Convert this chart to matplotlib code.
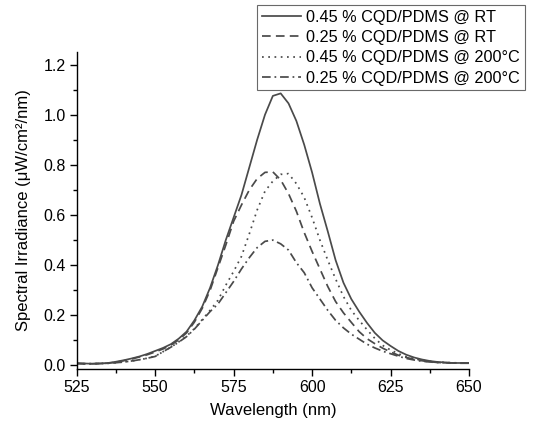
import matplotlib
matplotlib.use("Agg")
import matplotlib.pyplot as plt
from matplotlib.ticker import MultipleLocator

plt.rcParams['font.family'] = ['Liberation Sans', 'DejaVu Sans']

wavelength = [525, 527.5, 530, 532.5, 535, 537.5, 540, 542.5, 545, 547.5,
              550, 552.5, 555, 557.5, 560, 562.5, 565, 567.5, 570, 572.5,
              575, 577.5, 580, 582.5, 585, 587.5, 590, 592.5, 595, 597.5,
              600, 602.5, 605, 607.5, 610, 612.5, 615, 617.5, 620, 622.5,
              625, 627.5, 630, 632.5, 635, 637.5, 640, 642.5, 645, 647.5, 650]

rt_045 = [0.009, 0.008, 0.007, 0.008, 0.010, 0.015, 0.021, 0.028, 0.036, 0.046,
          0.058, 0.070, 0.085, 0.107, 0.135, 0.180, 0.235, 0.310, 0.400, 0.500,
          0.590, 0.680, 0.790, 0.900, 1.000, 1.075, 1.085, 1.045, 0.975, 0.880,
          0.770, 0.645, 0.535, 0.420, 0.330, 0.265, 0.215, 0.170, 0.130, 0.100,
          0.078, 0.058, 0.043, 0.032, 0.024, 0.018, 0.014, 0.012, 0.010, 0.010, 0.010]

rt_025 = [0.008, 0.007, 0.007, 0.008, 0.009, 0.013, 0.019, 0.026, 0.034, 0.043,
          0.054, 0.066, 0.081, 0.102, 0.130, 0.173, 0.228, 0.300, 0.390, 0.480,
          0.575, 0.640, 0.700, 0.745, 0.770, 0.772, 0.740, 0.685, 0.615, 0.530,
          0.455, 0.385, 0.315, 0.255, 0.210, 0.172, 0.135, 0.107, 0.087, 0.069,
          0.054, 0.041, 0.032, 0.025, 0.019, 0.015, 0.012, 0.011, 0.010, 0.009, 0.009]

t200_045 = [0.008, 0.007, 0.007, 0.008, 0.009, 0.011, 0.014, 0.018, 0.023, 0.029,
            0.037, 0.055, 0.073, 0.094, 0.117, 0.147, 0.183, 0.220, 0.260, 0.320,
            0.375, 0.435, 0.525, 0.620, 0.695, 0.735, 0.762, 0.765, 0.725, 0.670,
            0.590, 0.500, 0.420, 0.345, 0.275, 0.220, 0.180, 0.143, 0.108, 0.080,
            0.062, 0.047, 0.035, 0.027, 0.021, 0.017, 0.014, 0.012, 0.011, 0.010, 0.010]

t200_025 = [0.008, 0.007, 0.007, 0.008, 0.009, 0.011, 0.014, 0.018, 0.023, 0.029,
            0.036, 0.055, 0.073, 0.093, 0.115, 0.145, 0.180, 0.215, 0.245, 0.290,
            0.335, 0.385, 0.430, 0.470, 0.495, 0.500, 0.485, 0.460, 0.410, 0.370,
            0.310, 0.265, 0.220, 0.180, 0.150, 0.125, 0.105, 0.085, 0.070, 0.057,
            0.047, 0.037, 0.028, 0.022, 0.017, 0.014, 0.012, 0.011, 0.010, 0.010, 0.010]

labels = ["0.45 % CQD/PDMS @ RT", "0.25 % CQD/PDMS @ RT",
          "0.45 % CQD/PDMS @ 200°C", "0.25 % CQD/PDMS @ 200°C"]

color = "#4a4a4a"
fig = plt.figure(figsize=(5.38, 4.21), dpi=100)
ax = fig.add_axes([0.1426, 0.1235, 0.8717 - 0.1426, 0.8765 - 0.1235])

lw = 1.25
ax.plot(wavelength, rt_045, color=color, lw=lw, linestyle='-', label=labels[0])
ax.plot(wavelength, rt_025, color=color, lw=lw, linestyle=(0, (5, 3)), label=labels[1])
ax.plot(wavelength, t200_045, color=color, lw=lw, linestyle=(0, (1, 2.6)), label=labels[2])
ax.plot(wavelength, t200_025, color=color, lw=lw, linestyle=(0, (5, 2.2, 1, 2.2)), label=labels[3])

ax.set_xlim(525, 650)
ax.set_ylim(-0.014, 1.25)
ax.xaxis.set_major_locator(MultipleLocator(25))
ax.xaxis.set_minor_locator(MultipleLocator(12.5))
ax.yaxis.set_major_locator(MultipleLocator(0.2))
ax.yaxis.set_minor_locator(MultipleLocator(0.1))
ax.yaxis.set_major_formatter(plt.FuncFormatter(lambda v, p: f"{v:.1f}"))

for s in ['top', 'right']:
    ax.spines[s].set_visible(False)
for s in ['left', 'bottom']:
    ax.spines[s].set_linewidth(1.0)

ax.tick_params(which='major', direction='out', length=5, width=1.0, labelsize=11.5, pad=3)
ax.tick_params(which='minor', direction='out', length=3, width=1.0)

ax.set_xlabel("Wavelength (nm)", fontsize=12, labelpad=6)
ax.set_ylabel("Spectral Irradiance (μW/cm²/nm)", fontsize=12, labelpad=9)

leg = fig.legend(loc='upper right', bbox_to_anchor=(0.976, 0.988),
                 bbox_transform=fig.transFigure, fontsize=11.7, frameon=True,
                 fancybox=False, borderpad=0.3, labelspacing=0.32,
                 handlelength=2.4, handletextpad=0.35, borderaxespad=0)
leg.get_frame().set_edgecolor('#444444')
leg.get_frame().set_linewidth(0.8)

fig.savefig("out.png", dpi=100)
